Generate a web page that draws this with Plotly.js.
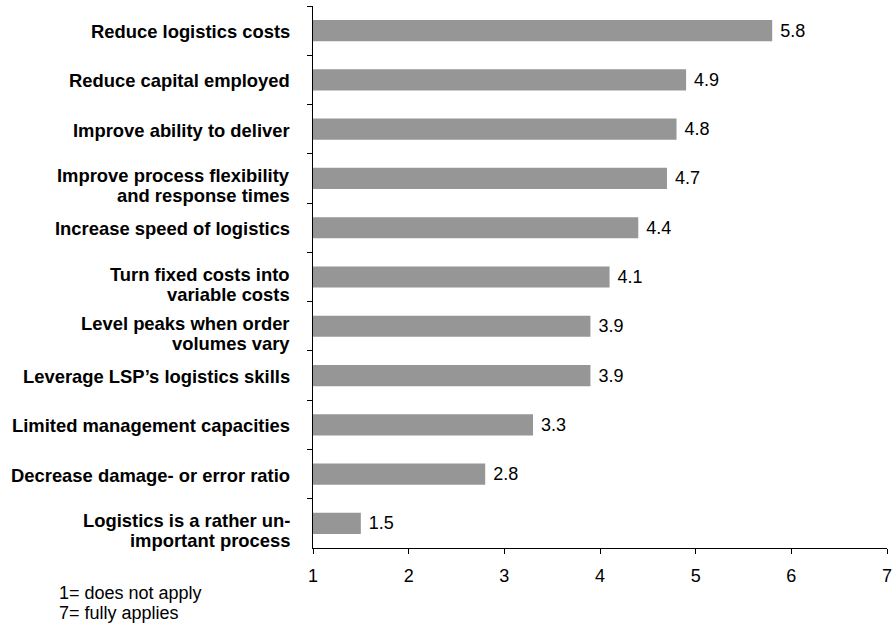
<!DOCTYPE html>
<html>
<head>
<meta charset="utf-8">
<script src="https://cdn.plot.ly/plotly-3.0.1.min.js"></script>
<style>html,body{margin:0;padding:0;background:#fff;}#chart{width:894px;height:626px;}</style>
</head>
<body>
<div id="chart"></div>
<script>
const categories = [
  "Reduce logistics costs",
  "Reduce capital employed",
  "Improve ability to deliver",
  "Improve process flexibility<br>and response times",
  "Increase speed of logistics",
  "Turn fixed costs into<br>variable costs",
  "Level peaks when order<br>volumes vary",
  "Leverage LSP’s logistics skills",
  "Limited management capacities",
  "Decrease damage- or error ratio",
  "Logistics is a rather un-<br>important process"
];
const values = [5.8, 4.9, 4.8, 4.7, 4.4, 4.1, 3.9, 3.9, 3.3, 2.8, 1.5];
const xTicks = [1, 2, 3, 4, 5, 6, 7];
const noteLines = ["1= does not apply", "7= fully applies"];

const font = "Arial, 'Liberation Sans', sans-serif";
const fs = 18;
const labelFs = 18.4;

const trace = {
  type: "bar",
  orientation: "h",
  y: categories,
  x: values,
  base: 0,
  width: 0.43,
  marker: {color: "#969696", line: {width: 0}},
  text: values.map(v => "\u00a0" + v.toFixed(1)),
  textposition: "outside",
  cliponaxis: false,
  textfont: {family: font, size: fs, color: "#000"},
  hoverinfo: "none"
};

const plotW = 894 - 313 - 7;
const plotH = 626 - 6 - 78;

// category labels drawn at each category position on the y axis
const catLabels = [];
categories.forEach(c => {
  const lines = c.split("<br>");
  const shifts = lines.length === 1 ? [-1] : [3, -17.5];
  lines.forEach((ln, i) => {
    catLabels.push({
      xref: "paper", yref: "y",
      x: 0, y: c,
      xanchor: "right", yanchor: "middle",
      xshift: -21, yshift: shifts[i],
      text: "<b>" + ln + "</b>",
      showarrow: false,
      font: {family: font, size: labelFs, color: "#000"}
    });
  });
});

const notes = noteLines.map((t, i) => ({
  xref: "paper", yref: "paper",
  x: (57 - 313) / plotW, y: -(45 + 20 * i) / plotH,
  xanchor: "left", yanchor: "middle",
  text: t,
  showarrow: false,
  font: {family: font, size: fs, color: "#000"}
}));

const layout = {
  width: 894,
  height: 626,
  margin: {l: 313, r: 7, t: 6, b: 78},
  paper_bgcolor: "#fff",
  plot_bgcolor: "#fff",
  showlegend: false,
  font: {family: font, size: fs, color: "#000"},
  xaxis: {
    range: [1, 7],
    tickvals: xTicks,
    ticktext: xTicks.map(String),
    ticks: "outside",
    ticklen: 5,
    tickcolor: "#000",
    showline: true,
    linecolor: "#000",
    linewidth: 1,
    showgrid: false,
    zeroline: false,
    tickfont: {family: font, size: fs, color: "#000"},
    ticklabelstandoff: 6,
    fixedrange: true
  },
  yaxis: {
    type: "category",
    autorange: "reversed",
    tickson: "boundaries",
    ticks: "outside",
    ticklen: 5,
    tickcolor: "#000",
    showline: true,
    linecolor: "#000",
    linewidth: 1,
    showgrid: false,
    zeroline: false,
    showticklabels: false,
    fixedrange: true
  },
  annotations: catLabels.concat(notes)
};

Plotly.newPlot("chart", [trace], layout, {displayModeBar: false, staticPlot: true});
</script>
</body>
</html>
